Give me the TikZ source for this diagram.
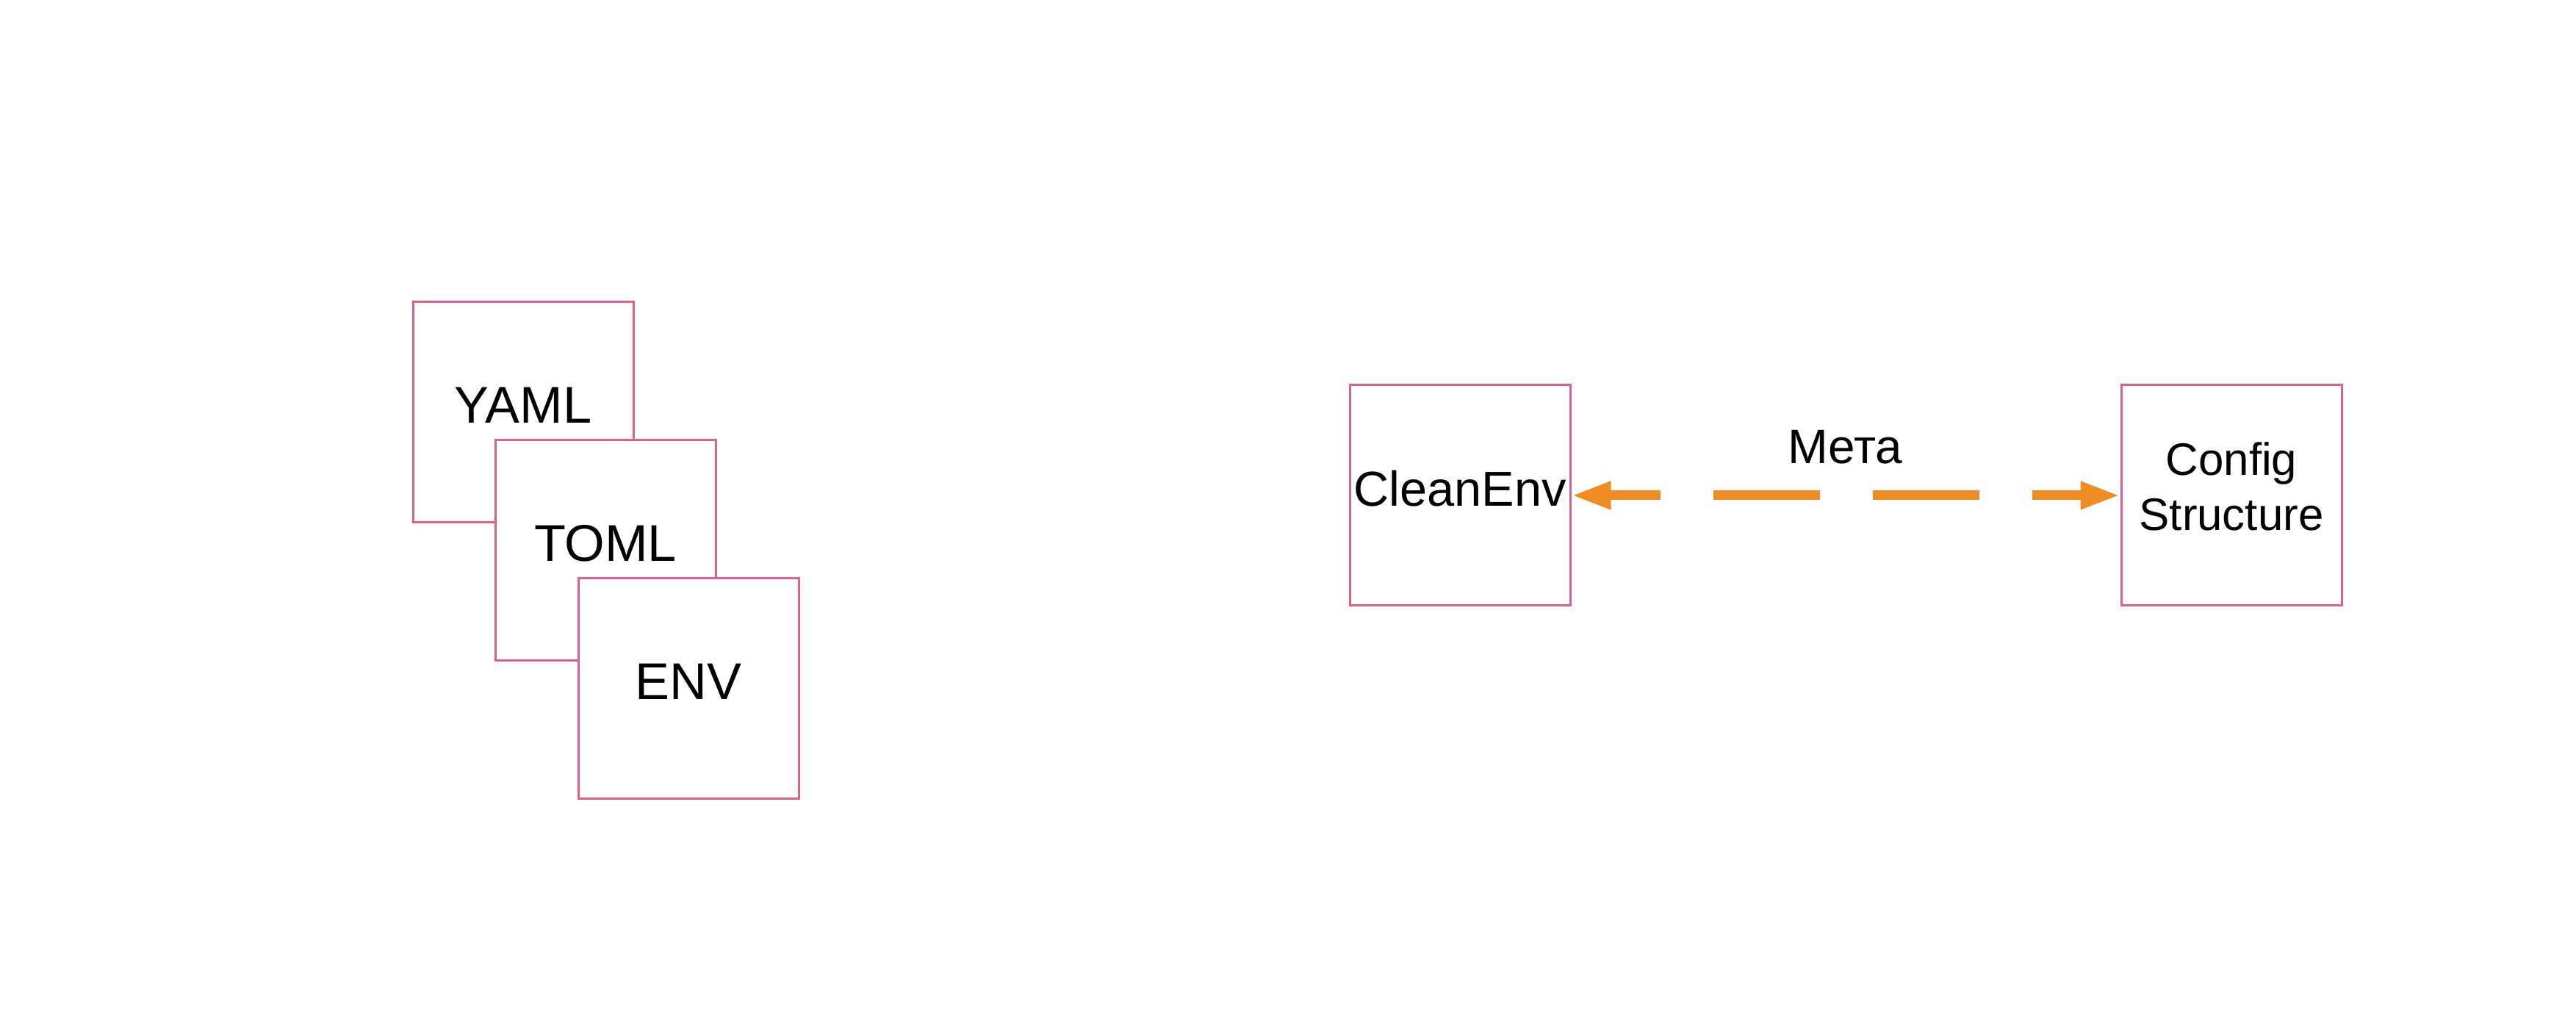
\documentclass[tikz,border=0pt]{standalone}
\usepackage{fontspec}
\setmainfont{Liberation Sans}
\usetikzlibrary{arrows.meta}
\definecolor{boxpink}{HTML}{E0608A}
\definecolor{arrorange}{HTML}{EF8D22}
\tikzset{
  fmtbox/.style={draw=boxpink, line width=0.03cm, fill=white, minimum width=3.0cm, minimum height=3.0cm, inner sep=0pt},
  lbl/.style={inner sep=0pt, font=\fontsize{19}{23}\selectfont, align=center},
  lblbig/.style={inner sep=0pt, font=\fontsize{20}{24}\selectfont, align=center},
  lblsmall/.style={inner sep=0pt, font=\fontsize{17.6}{21.3}\selectfont, align=center},
  metaarrow/.style={draw=arrorange, line width=0.13cm, dash pattern=on 1.45cm off 0.72cm, dash phase=0.74cm,
    {Triangle[length=0.54cm, width=0.35cm]}-{Triangle[length=0.54cm, width=0.35cm]}}
}
\begin{document}
\begin{tikzpicture}
\useasboundingbox (0,0) rectangle (35.06,13.89);
% stacked format boxes
\node[fmtbox] (yaml) at (7.12,8.28) {};
\node[lblbig] (yamlt) at ([yshift=0.10cm]yaml.center) {YAML};
\node[fmtbox] (toml) at (8.24,6.40) {};
\node[lblbig] (tomlt) at ([yshift=0.10cm]toml.center) {TOML};
\node[fmtbox] (env) at (9.37,4.52) {};
\node[lblbig] (envt) at ([yshift=0.10cm]env.center) {ENV};
% right part
\node[fmtbox] (clean) at (19.87,7.15) {};
\node[lbl] (cleant) at ([yshift=0.09cm]clean.center) {CleanEnv};
\node[fmtbox] (config) at (30.37,7.15) {};
\node[lblsmall] (configt) at ([yshift=0.12cm]config.center) {Config\\Structure};
\draw[metaarrow] (clean.east) -- (config.west);
\node[lbl, font=\fontsize{18.7}{22}\selectfont] (meta) at (25.11,7.81) {Мета};
\end{tikzpicture}
\end{document}
